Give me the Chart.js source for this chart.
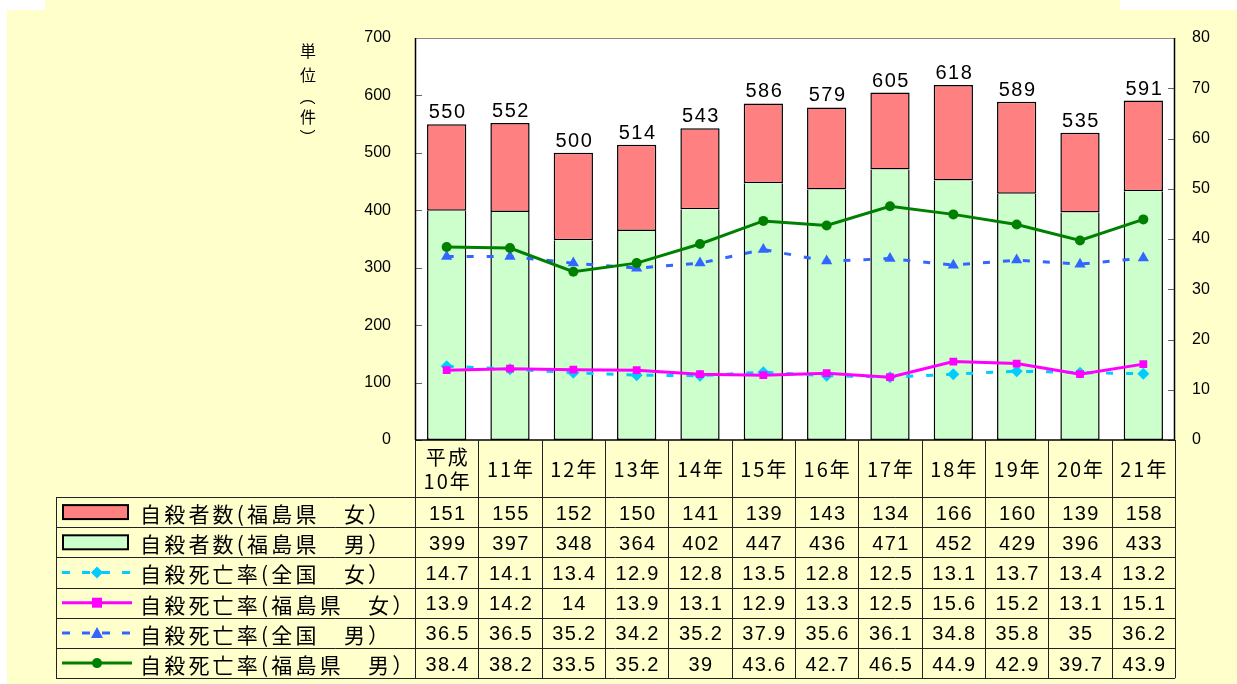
<!DOCTYPE html>
<html><head><meta charset="utf-8">
<script src="https://cdn.jsdelivr.net/npm/chart.js@4.4.1/dist/chart.umd.min.js"></script>
<style>html,body{margin:0;padding:0;background:#fff;overflow:hidden}#wrap{width:1237px;height:684px;position:relative}</style>
</head><body><div id="wrap"><canvas id="c" width="1237" height="684"></canvas></div>
<script>
// ---- data ----
const categories = [['平成','10年'],'11年','12年','13年','14年','15年','16年','17年','18年','19年','20年','21年'];
const femaleCounts = [151,155,152,150,141,139,143,134,166,160,139,158];
const maleCounts = [399,397,348,364,402,447,436,471,452,429,396,433];
const rateNationalFemale = [14.7,14.1,13.4,12.9,12.8,13.5,12.8,12.5,13.1,13.7,13.4,13.2];
const rateFukushimaFemale = [13.9,14.2,14,13.9,13.1,12.9,13.3,12.5,15.6,15.2,13.1,15.1];
const rateNationalMale = [36.5,36.5,35.2,34.2,35.2,37.9,35.6,36.1,34.8,35.8,35,36.2];
const rateFukushimaMale = [38.4,38.2,33.5,35.2,39,43.6,42.7,46.5,44.9,42.9,39.7,43.9];
const seriesNames = ['自殺者数(福島県　女）','自殺者数(福島県　男）','自殺死亡率(全国　女）','自殺死亡率(福島県　女）','自殺死亡率(全国　男）','自殺死亡率(福島県　男）'];
const leftTickMax = 700, leftTickStep = 100;
const rightTickMax = 80, rightTickStep = 10;
const unitLabel = ['単','位','（','件','）'];

// ---- styles ----
const C_F = '#FF8080', C_M = '#CCFFCC', C_NF = '#00CCFF', C_FF = '#FF00FF', C_NM = '#3366FF', C_FM = '#008000';
const NUMFONT = '"Liberation Sans", "Noto Sans CJK JP", sans-serif';
const JPFONT = '"Noto Sans CJK JP", "Liberation Sans", sans-serif';

const bgPlugin = {
  id: 'bg',
  beforeDraw(chart) {
    const ctx = chart.ctx, a = chart.chartArea;
    ctx.save();
    ctx.fillStyle = '#fff'; ctx.fillRect(0, 0, chart.width, chart.height);
    ctx.fillStyle = '#FFFFCC';
    ctx.fillRect(7, 10, chart.width - 7, chart.height - 10);
    ctx.fillRect(45, 0, 1075, 10);
    ctx.fillStyle = '#fff';
    ctx.fillRect(a.left, a.top, a.right - a.left, a.bottom - a.top);
    ctx.restore();
  }
};

const frameAndLabelsPlugin = {
  id: 'frame',
  beforeDatasetsDraw(chart) {
    const ctx = chart.ctx, a = chart.chartArea;
    ctx.save();
    ctx.strokeStyle = '#666'; ctx.lineWidth = 1;
    const y = chart.scales.y, y1 = chart.scales.y1;
    y.ticks.forEach(t => { const p = Math.round(y.getPixelForValue(t.value)) + 0.5; ctx.beginPath(); ctx.moveTo(a.left, p); ctx.lineTo(a.left + 7, p); ctx.stroke(); });
    y1.ticks.forEach(t => { const p = Math.round(y1.getPixelForValue(t.value)) + 0.5; ctx.beginPath(); ctx.moveTo(a.right - 7, p); ctx.lineTo(a.right, p); ctx.stroke(); });
    ctx.restore();
  },
  afterDraw(chart) {
    const ctx = chart.ctx, a = chart.chartArea;
    ctx.save();
    ctx.lineWidth = 1;
    ctx.strokeStyle = '#888';
    ctx.beginPath(); ctx.moveTo(a.left, a.top + 0.5); ctx.lineTo(a.right, a.top + 0.5); ctx.stroke();
    ctx.strokeStyle = '#000'; ctx.lineWidth = 1.5;
    ctx.beginPath(); ctx.moveTo(a.left + 0.5, a.top); ctx.lineTo(a.left + 0.5, a.bottom); ctx.stroke();
    ctx.beginPath(); ctx.moveTo(a.right - 0.5, a.top); ctx.lineTo(a.right - 0.5, a.bottom); ctx.stroke();
    ctx.beginPath(); ctx.moveTo(a.left, a.bottom); ctx.lineTo(a.right, a.bottom); ctx.stroke();

    // unit label (vertical)
    ctx.fillStyle = '#000';
    ctx.font = '16px ' + JPFONT;
    ctx.textAlign = 'center'; ctx.textBaseline = 'middle';
    const uy = [51, 75, 97, 117, 137];
    unitLabel.forEach((ch, i) => {
      if (ch === '（' || ch === '）') {
        ctx.save(); ctx.translate(308, uy[i]); ctx.rotate(Math.PI / 2); ctx.fillText(ch, 0, 0); ctx.restore();
      } else ctx.fillText(ch, 308, uy[i]);
    });

    // totals above bars
    const fm = chart.getDatasetMeta(1);
    ctx.font = '20px ' + NUMFONT;
    ctx.letterSpacing = '1.5px';
    ctx.textBaseline = 'alphabetic';
    fm.data.forEach((el, i) => {
      ctx.fillText(String(femaleCounts[i] + maleCounts[i]), el.x + 1, el.y - 6);
    });

    // table
    const x = chart.scales.x;
    const n = categories.length;
    const colW = x.getPixelForValue(1) - x.getPixelForValue(0);
    const tLeft = 56, headTop = a.bottom, rowTop = 497, rowH = 30.2;
    const nRows = seriesNames.length;
    const tBottom = rowTop + rowH * nRows;
    ctx.letterSpacing = '0px';
    ctx.strokeStyle = '#222'; ctx.lineWidth = 1;
    for (let i = 0; i <= n; i++) {
      const px = Math.round(x.getPixelForValue(i) - colW / 2) + 0.5;
      ctx.beginPath(); ctx.moveTo(px, headTop); ctx.lineTo(px, tBottom); ctx.stroke();
    }
    ctx.beginPath(); ctx.moveTo(tLeft + 0.5, rowTop); ctx.lineTo(tLeft + 0.5, tBottom); ctx.stroke();
    for (let r = 0; r <= nRows; r++) {
      const py = Math.round(rowTop + r * rowH) + 0.5;
      ctx.beginPath(); ctx.moveTo(tLeft, py); ctx.lineTo(a.right, py); ctx.stroke();
    }
    ctx.fillStyle = '#000';
    ctx.font = '20px ' + JPFONT;
    ctx.letterSpacing = '2px';
    ctx.textAlign = 'center'; ctx.textBaseline = 'middle';
    categories.forEach((c, i) => {
      const cx = x.getPixelForValue(i) + 1;
      if (Array.isArray(c)) { ctx.fillText(c[0], cx, 457); ctx.fillText(c[1], cx, 481); }
      else ctx.fillText(c, cx, 469);
    });
    const rowData = [femaleCounts, maleCounts, rateNationalFemale, rateFukushimaFemale, rateNationalMale, rateFukushimaMale];
    rowData.forEach((vals, r) => {
      const cy = rowTop + r * rowH + rowH / 2 + 2;
      ctx.font = '20px ' + NUMFONT;
      ctx.letterSpacing = '1.3px';
      ctx.textAlign = 'center';
      vals.forEach((v, i) => ctx.fillText(String(v), x.getPixelForValue(i) + 1, cy));
      drawSymbol(ctx, r, cy - 2);
      ctx.font = '21px ' + JPFONT;
      ctx.letterSpacing = '3.2px';
      ctx.textAlign = 'left';
      ctx.fillStyle = '#000';
      ctx.fillText(seriesNames[r], 140, cy);
    });
    ctx.restore();
  }
};

function drawSymbol(ctx, r, cy) {
  ctx.save();
  ctx.letterSpacing = '0px';
  if (r < 2) {
    ctx.fillStyle = r === 0 ? C_F : C_M;
    ctx.strokeStyle = '#000'; ctx.lineWidth = 2;
    ctx.fillRect(63, cy - 7, 65, 14);
    ctx.strokeRect(63, cy - 7, 65, 14);
  } else {
    const col = [C_NF, C_FF, C_NM, C_FM][r - 2];
    const dashed = (r === 2 || r === 4);
    ctx.strokeStyle = col; ctx.fillStyle = col; ctx.lineWidth = 3;
    ctx.setLineDash(dashed ? [8, 12] : []);
    ctx.beginPath(); ctx.moveTo(62, cy); ctx.lineTo(132, cy); ctx.stroke();
    ctx.setLineDash([]);
    const mx = 97;
    ctx.beginPath();
    if (r === 2) { ctx.moveTo(mx, cy - 6); ctx.lineTo(mx + 6, cy); ctx.lineTo(mx, cy + 6); ctx.lineTo(mx - 6, cy); ctx.closePath(); }
    else if (r === 3) { ctx.rect(mx - 5, cy - 5, 10, 10); }
    else if (r === 4) { ctx.moveTo(mx, cy - 6); ctx.lineTo(mx + 6, cy + 5); ctx.lineTo(mx - 6, cy + 5); ctx.closePath(); }
    else { ctx.arc(mx, cy, 5, 0, Math.PI * 2); }
    ctx.fill();
  }
  ctx.restore();
}

new Chart(document.getElementById('c'), {
  data: {
    labels: categories,
    datasets: [
      { type: 'bar', label: seriesNames[1], data: maleCounts, backgroundColor: C_M, borderColor: '#000', borderWidth: 1.5, borderSkipped: 'top', yAxisID: 'y', order: 2, stack: 's', barPercentage: 0.62, categoryPercentage: 1 },
      { type: 'bar', label: seriesNames[0], data: femaleCounts, backgroundColor: C_F, borderColor: '#000', borderWidth: 1.5, borderSkipped: false, yAxisID: 'y', order: 2, stack: 's', barPercentage: 0.62, categoryPercentage: 1 },
      { type: 'line', label: seriesNames[2], data: rateNationalFemale, borderColor: C_NF, backgroundColor: C_NF, borderWidth: 3, borderDash: [7, 13], pointStyle: 'rectRot', pointRadius: 6, pointBorderWidth: 0, yAxisID: 'y1', order: 1, tension: 0 },
      { type: 'line', label: seriesNames[3], data: rateFukushimaFemale, borderColor: C_FF, backgroundColor: C_FF, borderWidth: 3, pointStyle: 'rect', pointRadius: 5.5, pointBorderWidth: 0, yAxisID: 'y1', order: 0, tension: 0 },
      { type: 'line', label: seriesNames[4], data: rateNationalMale, borderColor: C_NM, backgroundColor: C_NM, borderWidth: 3, borderDash: [7, 13], pointStyle: 'triangle', pointRadius: 6.5, pointBorderWidth: 0, yAxisID: 'y1', order: 1, tension: 0 },
      { type: 'line', label: seriesNames[5], data: rateFukushimaMale, borderColor: C_FM, backgroundColor: C_FM, borderWidth: 3, pointStyle: 'circle', pointRadius: 5, pointBorderWidth: 0, yAxisID: 'y1', order: 0, tension: 0 }
    ]
  },
  options: {
    responsive: false, animation: false, devicePixelRatio: 1,
    layout: { padding: { top: 38, bottom: 244, left: 0, right: 0 } },
    plugins: { legend: { display: false }, tooltip: { enabled: false } },
    scales: {
      x: { display: false, stacked: true, offset: true },
      y: {
        position: 'left', stacked: true, min: 0, max: leftTickMax,
        ticks: { stepSize: leftTickStep, color: '#000', padding: 24, font: { size: 16, family: NUMFONT } },
        grid: { display: false, drawTicks: false }, border: { display: false },
        afterFit: s => { s.width = 415; }
      },
      y1: {
        position: 'right', stacked: false, min: 0, max: rightTickMax,
        ticks: { stepSize: rightTickStep, color: '#000', padding: 17, font: { size: 16, family: NUMFONT } },
        grid: { display: false, drawTicks: false }, border: { display: false },
        afterFit: s => { s.width = 62; }
      }
    }
  },
  plugins: [bgPlugin, frameAndLabelsPlugin]
});
</script></body></html>
